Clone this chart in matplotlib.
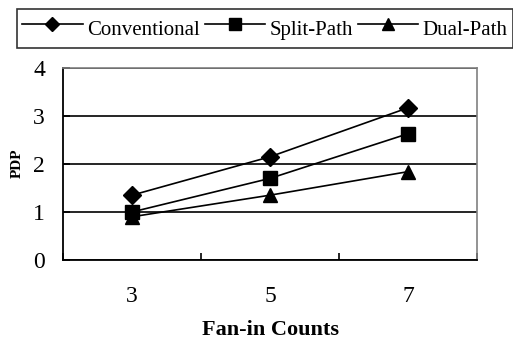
import matplotlib
matplotlib.use("Agg")
import matplotlib.pyplot as plt

categories = ["3", "5", "7"]
conventional = [1.34, 2.14, 3.16]
split_path = [0.99, 1.69, 2.62]
dual_path = [0.89, 1.34, 1.83]
series_names = ["Conventional", "Split-Path", "Dual-Path"]
y_ticks = [0, 1, 2, 3, 4]

plt.rcParams['font.family'] = ['Liberation Serif', 'DejaVu Serif']

W, H = 513, 341
fig = plt.figure(figsize=(W / 100, H / 100), dpi=100)
ax = fig.add_axes([63 / W, 1 - 259.5 / H, (477 - 63) / W, (259.5 - 67.5) / H])

x = list(range(len(categories)))
markers = ["D", "s", "^"]
msizes = [9.5, 10, 10.5]
for vals, m, ms, name in zip([conventional, split_path, dual_path], markers, msizes, series_names):
    ax.plot(x, vals, color="black", marker=m, markersize=ms, linewidth=1.2,
            markerfacecolor="black", markeredgecolor="black", label=name, zorder=3)

ax.set_xlim(-0.5, len(categories) - 0.5)
ax.set_ylim(0, 4)
ax.set_yticks(y_ticks)
ax.set_yticklabels([str(t) for t in y_ticks])
ax.yaxis.grid(True, color="black", linewidth=1.2)
ax.set_axisbelow(True)

ax.set_xticks([i - 0.5 for i in range(len(categories) + 1)])
ax.set_xticklabels([])
ax.set_xticks(x, minor=True)
ax.set_xticklabels(categories, minor=True)
ax.tick_params(axis="x", which="major", direction="in", length=5, width=1.2, color="black")
ax.tick_params(axis="x", which="minor", length=0, pad=19, labelsize=17)
ax.tick_params(axis="y", which="major", direction="in", length=5, width=1.2, pad=13, labelsize=17)

for s in ["left", "bottom"]:
    ax.spines[s].set_color("black")
    ax.spines[s].set_linewidth(1.3)
for s in ["top", "right"]:
    ax.spines[s].set_color("#808080")
    ax.spines[s].set_linewidth(1.2)

ax.set_xlabel("Fan-in Counts", fontsize=16, fontweight="bold", labelpad=9.5)
fig.text(17 / W, 1 - 163 / H, "PDP", rotation=90, fontsize=11, fontweight="bold",
         ha="center", va="center")

leg = fig.legend(loc="upper left", bbox_to_anchor=(17 / W, 1 - 8.5 / H), ncol=3,
                 fontsize=15, frameon=True, fancybox=False, edgecolor="black",
                 handlelength=2.9, handletextpad=0.2, columnspacing=0.25,
                 handleheight=1.75, borderpad=0.25, borderaxespad=0, markerscale=0.8)
leg.get_frame().set_linewidth(1.2)

fig.savefig("out.png", dpi=100)
